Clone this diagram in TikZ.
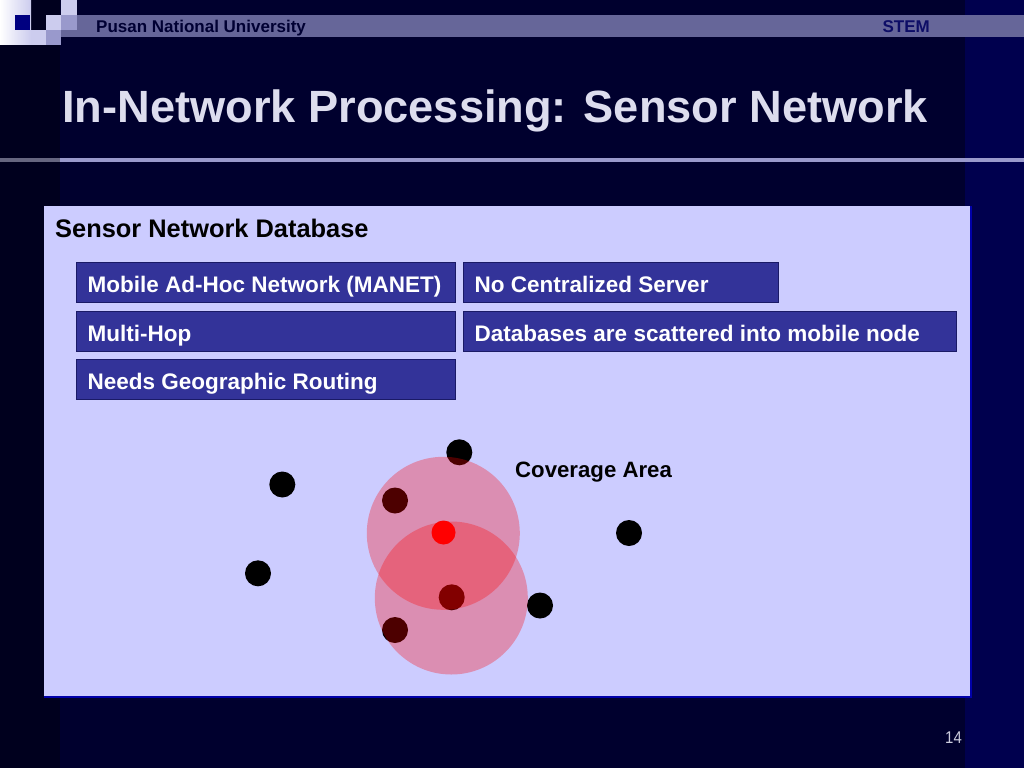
\documentclass[tikz,border=0pt]{standalone}
\usepackage{fontspec}
\setmainfont{Liberation Sans}
\usetikzlibrary{calc}
\definecolor{bgmain}{HTML}{00002E}
\definecolor{bgleft}{HTML}{00001E}
\definecolor{bgright}{HTML}{00004E}
\definecolor{hdrbar}{HTML}{666699}
\definecolor{lav}{HTML}{CCCCEE}
\definecolor{midlav}{HTML}{9999CC}
\definecolor{darkline}{HTML}{666680}
\definecolor{logoblue}{HTML}{000080}
\definecolor{panelfill}{HTML}{CCCCFF}
\definecolor{panelline}{HTML}{0000AA}
\definecolor{boxfill}{HTML}{333399}
\definecolor{boxline}{HTML}{1A1A66}
\definecolor{titlecol}{HTML}{DDDDEE}
\definecolor{hdrtext}{HTML}{000033}
\definecolor{stemtext}{HTML}{0D0D66}
\definecolor{pagenum}{HTML}{CCCCDD}
\tikzset{
  txt/.style={inner sep=0pt, anchor=base west},
  hdrtxt/.style={txt, font=\fontsize{17}{20}\selectfont\bfseries},
  titletxt/.style={txt, text=titlecol, font=\fontsize{45.2}{52}\selectfont\bfseries},
  headtxt/.style={txt, text=black, font=\fontsize{25.4}{30}\selectfont\bfseries},
  infobox/.style={draw=boxline, line width=1pt, fill=boxfill, anchor=north west, minimum height=40, inner sep=0pt},
  infotxt/.style={txt, text=white, font=\fontsize{22.5}{26}\selectfont\bfseries},
  sensor/.style={circle, fill=black, minimum size=26, inner sep=0pt},
  relay/.style={circle, fill=red, minimum size=24, inner sep=0pt},
  coverage/.style={circle, fill=red, fill opacity=0.3, minimum size=153, inner sep=0pt},
}
\begin{document}
\begin{tikzpicture}[x=1pt,y=-1pt]
\useasboundingbox (0,0) rectangle (1024,768);
% background
\fill[bgmain] (0,0) rectangle (1024,768);
\fill[bgleft] (0,0) rectangle (60,768);
\fill[bgright] (965,0) rectangle (1024,768);
% logo and header bar
\shade[left color=white, right color=lav] (0,0) rectangle (31,45);
\fill[logoblue] (15,15) rectangle (30,30);
\fill[hdrbar] (61,15) rectangle (1024,37);
\fill[lav] (61,0) rectangle (77,15);
\fill[lav] (46,15) rectangle (61,30);
\fill[midlav] (61,15) rectangle (77,30);
\fill[lav] (31,30) rectangle (46,45);
\fill[midlav] (46,30) rectangle (61,45);
\node[hdrtxt, text=hdrtext] (uni) at (96,33) {Pusan National University};
\node[hdrtxt, text=stemtext, anchor=base east] (stem) at (930,33) {STEM};
% title
\node[titletxt] (title) at (62,122) {In-Network Processing: Sensor Network};
\fill[darkline] (0,158) rectangle (60,162);
\fill[midlav] (60,158) rectangle (1024,162);
% panel
\node[fill=panelfill, anchor=north west, minimum width=927, minimum height=491, inner sep=0pt] (panel) at (44,206) {};
\draw[panelline, line width=2pt] (panel.north east) -- (panel.south east) -- (panel.south west);
\node[headtxt] (head) at (55,237) {Sensor Network Database};
% boxes
\node[infobox, minimum width=379] (b1) at (76,262) {};
\node[infobox, minimum width=315] (b2) at (463,262) {};
\node[infobox, minimum width=379] (b3) at (76,311) {};
\node[infobox, minimum width=493] (b4) at (463,311) {};
\node[infobox, minimum width=379] (b5) at (76,359) {};
\node[infotxt] (t1) at ($(b1.north west)+(11.5,30)$) {Mobile Ad-Hoc Network (MANET)};
\node[infotxt] (t2) at ($(b2.north west)+(11.5,30)$) {No Centralized Server};
\node[infotxt] (t3) at ($(b3.north west)+(11.5,30)$) {Multi-Hop};
\node[infotxt] (t4) at ($(b4.north west)+(11.5,30)$) {Databases are scattered into mobile node};
\node[infotxt] (t5) at ($(b5.north west)+(11.5,30)$) {Needs Geographic Routing};
% sensor nodes
\node[sensor] (s1) at (459.3,452.3) {};
\node[sensor] (s2) at (282.3,484.5) {};
\node[sensor] (s3) at (395,500.5) {};
\node[relay]  (src) at (443.5,532.5) {};
\node[sensor] (s4) at (629,533) {};
\node[sensor] (s5) at (258,573.3) {};
\node[sensor] (s6) at (451.7,597.3) {};
\node[sensor] (s7) at (540,605.5) {};
\node[sensor] (s8) at (395,630) {};
% coverage areas
\node[coverage] (cov1) at (443.3,533.3) {};
\node[coverage] (cov2) at (451.3,598) {};
\node[txt, text=black, font=\fontsize{22.2}{26}\selectfont\bfseries] (covlbl) at (515,477) {Coverage Area};
% page number
\node[txt, text=pagenum, font=\fontsize{17}{18}\selectfont] (pg) at (945,743) {\scalebox{0.88}[1]{14}};
\end{tikzpicture}
\end{document}
